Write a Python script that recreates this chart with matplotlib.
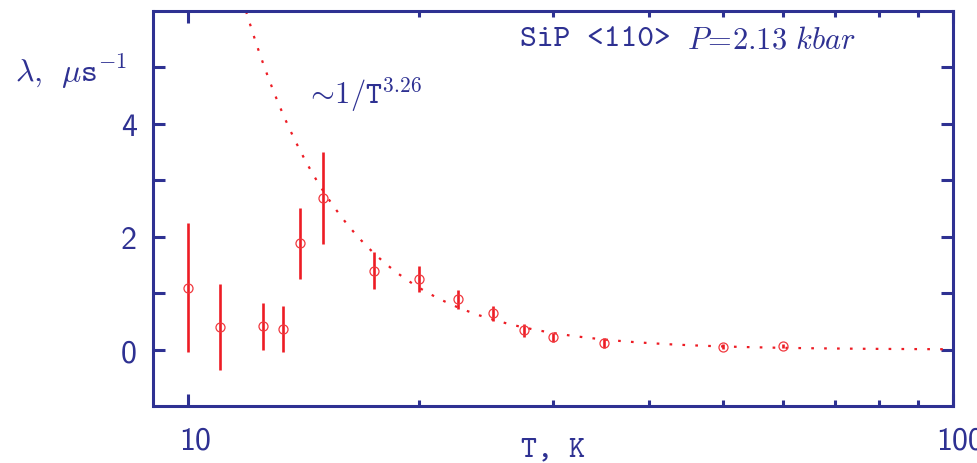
import matplotlib
matplotlib.use("Agg")
import matplotlib.pyplot as plt
import matplotlib.transforms as mtransforms
import numpy as np
from matplotlib.ticker import FixedLocator, NullFormatter, FuncFormatter

# measured points: temperature (K), relaxation rate (1/us), error bar half-length
temps = [10, 11, 12.5, 13.3, 14, 15, 17.5, 20, 22.5, 25, 27.5, 30, 35, 50, 60]
rates = [1.10, 0.40, 0.41, 0.36, 1.88, 2.69, 1.40, 1.245, 0.89, 0.64, 0.34,
         0.22, 0.12, 0.05, 0.065]
errors = [1.14, 0.76, 0.42, 0.41, 0.635, 0.82, 0.335, 0.23, 0.165, 0.14, 0.115,
          0.08, 0.09, 0.04, 0.03]

# power-law fit  lambda = A / T^n
fit_amp = 19200.0
fit_exp = 3.26
fit_range = (11.5, 100)

navy = '#2e3192'
red = '#ed1c24'

plt.rcParams['mathtext.fontset'] = 'cm'

fig = plt.figure(figsize=(9.78, 4.64), dpi=100)
ax = fig.add_axes([153.5 / 978, 1 - 407 / 464, 799.5 / 978, 395 / 464])

t_fit = np.geomspace(fit_range[0], fit_range[1], 400)
ax.plot(t_fit, fit_amp / t_fit ** fit_exp, color=red, lw=1.6,
        dashes=(1.2, 4.6), dash_capstyle='butt')

ax.errorbar(temps, rates, yerr=errors, fmt='none', ecolor=red, elinewidth=1.9,
            capsize=0)
ax.plot(temps, rates, 'o', ms=6.5, mfc='none', mec='#f0393f', mew=0.9)

ax.set_xscale('log')
ax.set_xlim(9, 100)
ax.set_ylim(-1, 6)

ax.xaxis.set_major_locator(FixedLocator([10, 100]))
ax.xaxis.set_minor_locator(FixedLocator([20, 30, 40, 50, 60, 70, 80, 90]))
ax.xaxis.set_minor_formatter(NullFormatter())
ax.xaxis.set_major_formatter(FuncFormatter(lambda v, p: '%d' % v))
ax.yaxis.set_major_locator(FixedLocator([0, 2, 4]))
ax.yaxis.set_minor_locator(FixedLocator([1, 3, 5]))
ax.yaxis.set_major_formatter(FuncFormatter(lambda v, p: '%d' % v))

ax.tick_params(which='both', direction='in', top=True, right=True,
               color=navy, width=2.2, labelcolor=navy, labelsize=23)
ax.tick_params(axis='x', which='major', length=8.5, pad=14)
ax.tick_params(axis='x', which='minor', length=4.5)
ax.tick_params(axis='y', which='both', length=8.5, pad=12)
for lab in ax.get_xticklabels() + ax.get_yticklabels():
    lab.set_family('cmss10')
offset = mtransforms.ScaledTranslation(7 / 100, 0, fig.dpi_scale_trans)
for lab in ax.get_xticklabels():
    lab.set_transform(lab.get_transform() + offset)

for sp in ax.spines.values():
    sp.set_color(navy)
    sp.set_linewidth(2.2)

ax.set_xlabel('T, K', family='cmtt10', fontsize=22, color=navy)
ax.xaxis.set_label_coords(0.5, -0.078)
fig.text(15 / 978, 1 - 72 / 464, r'$\lambda\mathtt{,}\ \ \mu\mathtt{s}^{-1}$',
         fontsize=23, color=navy, ha='left', va='center')

ax.text(0.458, 0.929, 'SiP <110>', transform=ax.transAxes, family='cmtt10',
        fontsize=23, color=navy, ha='left', va='center')
ax.text(0.667, 0.929, r'$P\!=\!2.13\ kbar$', transform=ax.transAxes,
        fontsize=22, color=navy, ha='left', va='center')
ax.text(0.19, 0.79, r'$\sim\!\mathtt{1/T}^{\mathrm{3.26}}$',
        transform=ax.transAxes, fontsize=22, color=navy, ha='left',
        va='center')

fig.savefig('out.png', dpi=100)
